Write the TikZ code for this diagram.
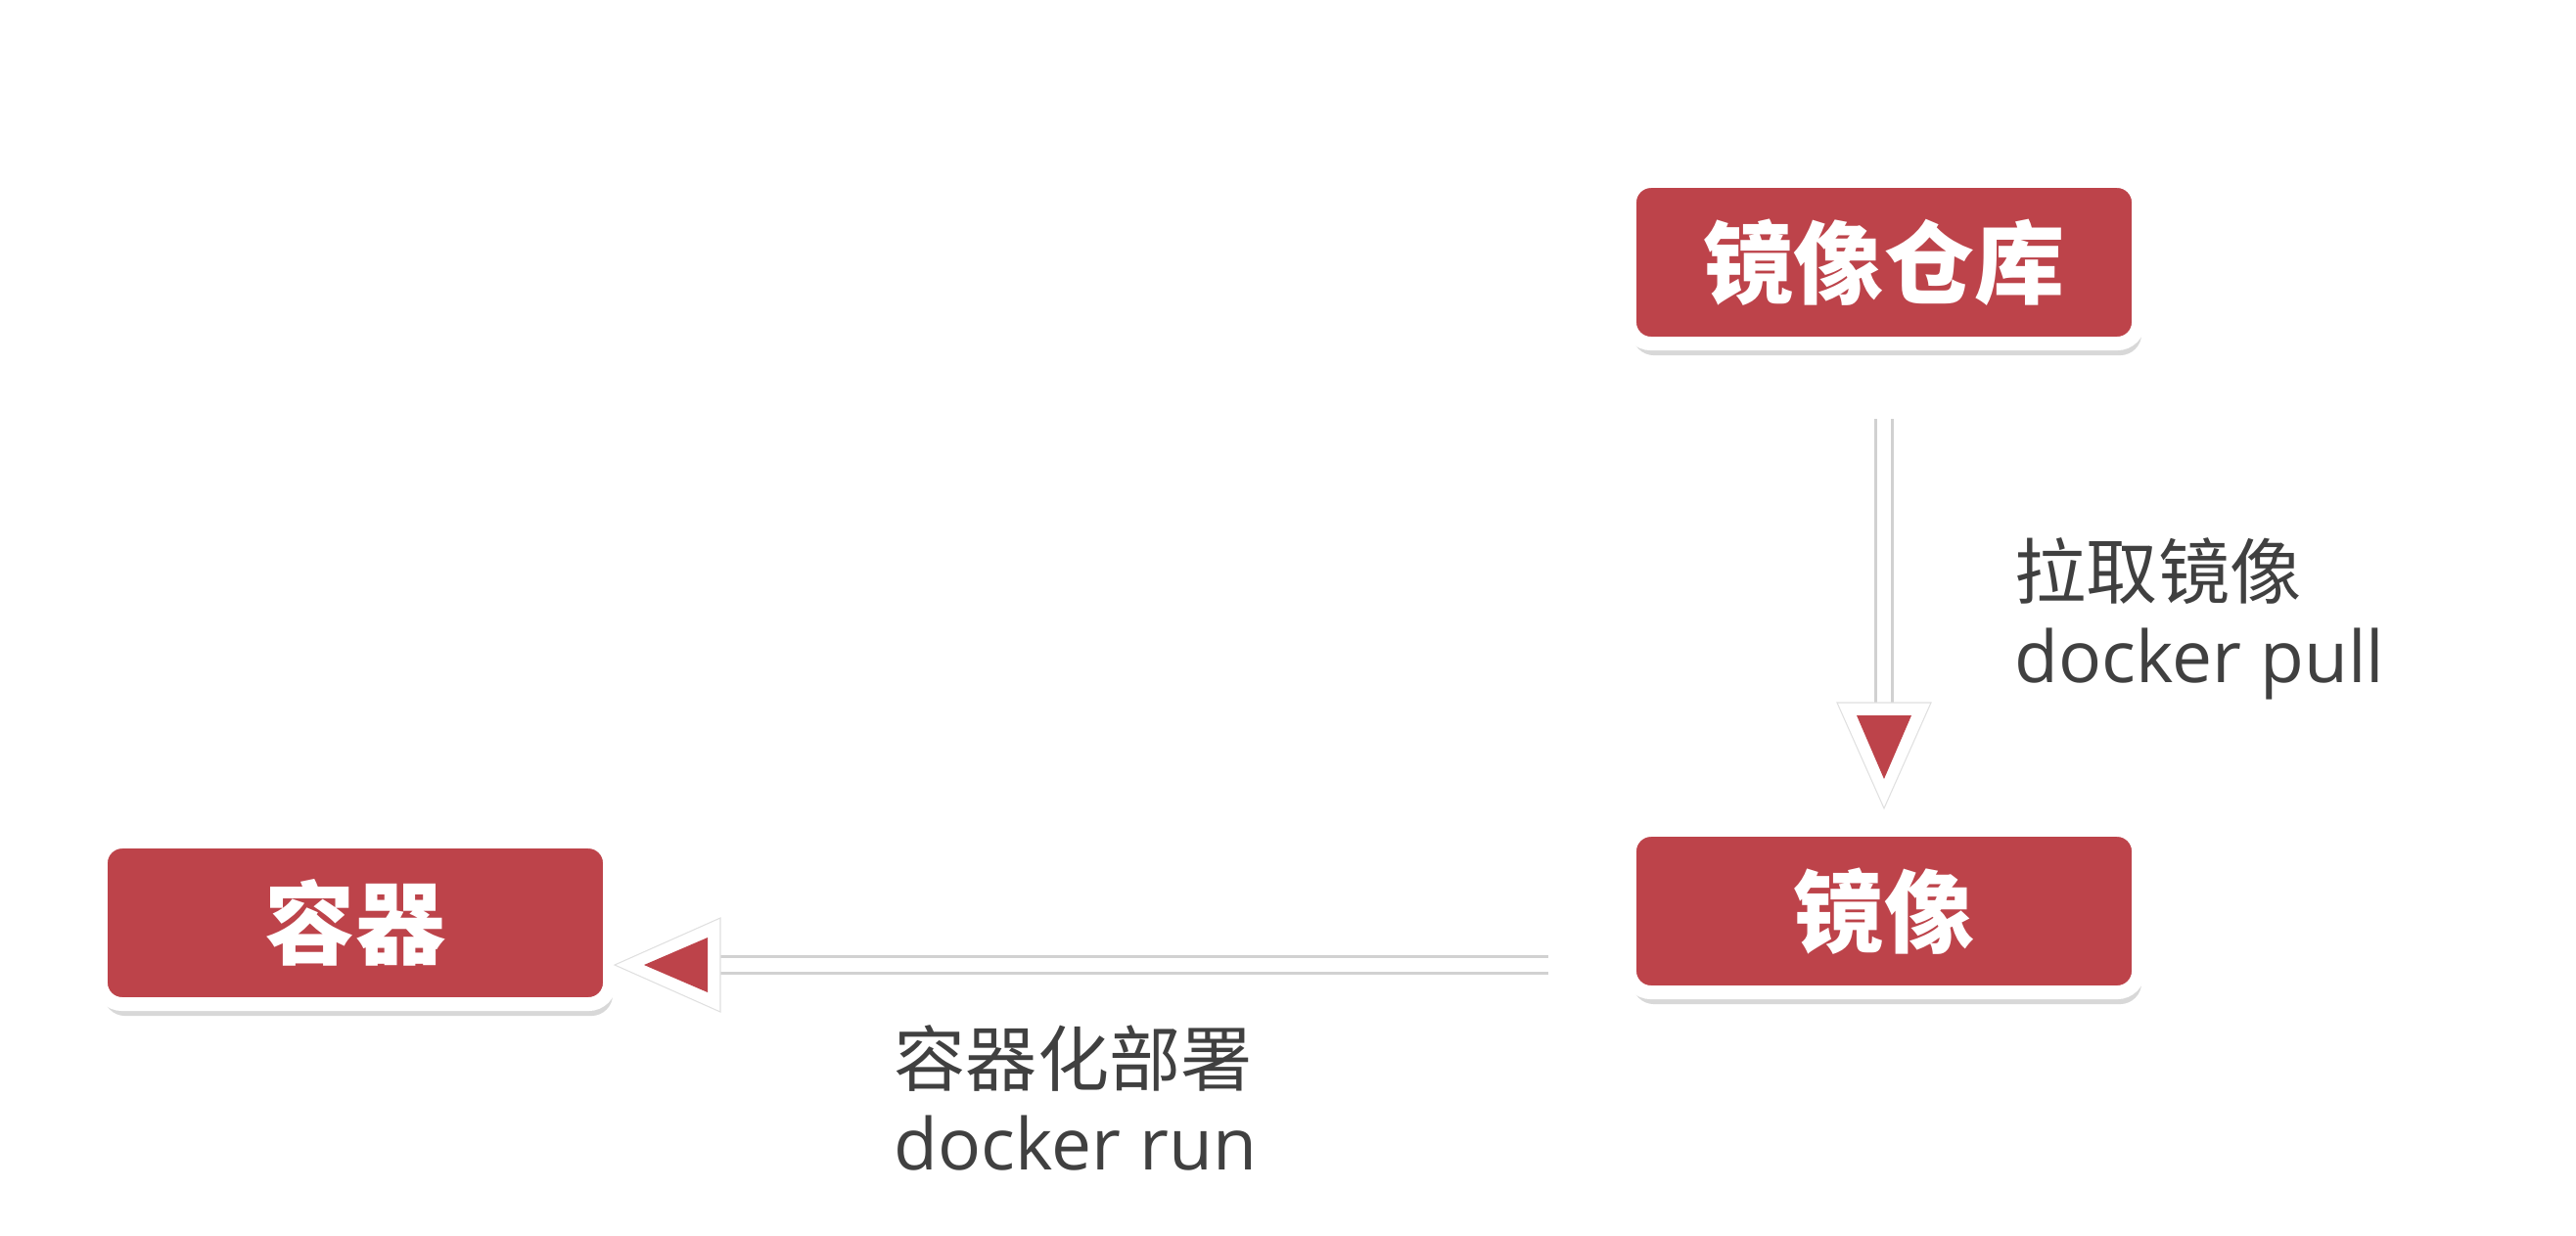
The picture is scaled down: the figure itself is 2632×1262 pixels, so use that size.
\documentclass[tikz,border=0pt]{standalone}
\usepackage{fontspec}
\setmainfont{Open Sans}
\newfontfamily\cjk{Noto Sans CJK SC}
\usetikzlibrary{shadows}
\definecolor{boxred}{RGB}{189,67,74}
\definecolor{lblgray}{RGB}{64,64,64}
\begin{document}
\begin{tikzpicture}[
		x=0.01cm, y=-0.01cm,
		box/.style={rectangle, rounded corners=0.22cm, fill=boxred, draw=white,
			line width=0.14cm, minimum width=5.2cm, minimum height=1.66cm,
			inner sep=0pt, text=white, font=\cjk\bfseries\fontsize{26.2}{30}\selectfont,
			drop shadow={opacity=0.3, shadow xshift=0.03cm, shadow yshift=-0.12cm}},
		lbl/.style={align=left, anchor=base west, inner sep=0pt, text=lblgray,
			font=\fontsize{20.8}{24.3}\selectfont},
		shaft/.style={draw=black!18, double=white, double distance=0.14cm, line width=0.03cm},
		headtip/.pic={
			\filldraw[fill=white, draw=black!12, line width=0.3pt] (0,0) -- (-108,48) -- (-108,-48) -- cycle;
			\fill[boxred] (-30,0) -- (-95,28) -- (-95,-28) -- cycle;
		}
		]
		\path[use as bounding box, fill=white] (0,0) rectangle (2632,1262);

		\node[box] (repo) at (1925,268) {镜像仓库};
		\node[box] (image) at (1925,931) {镜像};
		\node[box] (container) at (363,943) {容器};

		\coordinate (pulltop) at (1925,428);
		\coordinate (pullbase) at (1925,718);
		\coordinate (pulltip) at (1925,826);
		\coordinate (runstart) at (1582,986);
		\coordinate (runbase) at (736,986);
		\coordinate (runtip) at (628,986);

		\draw[shaft] (pulltop) -- (pullbase);
		\pic[rotate=-90] at (pulltip) {headtip};
		\draw[shaft] (runstart) -- (runbase);
		\pic[rotate=180] at (runtip) {headtip};

		\node[lbl] (pulllbl) at (2058,697) {{\cjk 拉取镜像}\\docker pull};
		\node[lbl] (runlbl) at (913,1195) {{\cjk 容器化部署}\\docker run};
\end{tikzpicture}
\end{document}
